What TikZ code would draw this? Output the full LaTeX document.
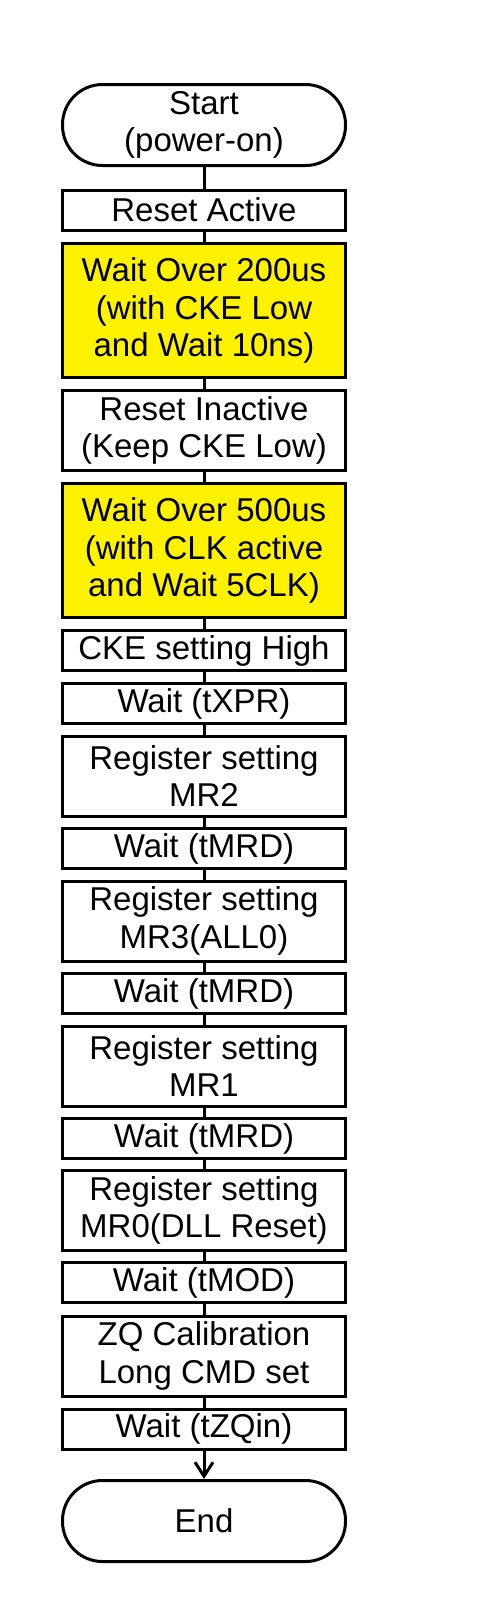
\documentclass[tikz,border=0pt]{standalone}
\usepackage{fontspec}
\setmainfont{Liberation Sans}
\usetikzlibrary{arrows.meta}

\begin{document}
\begin{tikzpicture}[
    x=1pt, y=-1pt,
    every node/.style={draw, line width=3pt, minimum width=283pt, inner sep=0pt,
      align=center, font=\fontsize{33}{37.5}\selectfont},
    term/.style={rounded corners=40pt, minimum height=81pt},
    single/.style={minimum height=40pt},
    double/.style={minimum height=80pt},
    waitbox/.style={minimum height=134pt, fill=yellow},
    line width=3pt
  ]
    \useasboundingbox (0,0) rectangle (492,1623);
    \node[term] (start) at (204, 125) {Start\\(power-on)};
    \node[single] (rstact) at (204, 210) {Reset Active};
    \node[waitbox] (wait1) at (204, 310.5) {Wait Over 200us\\(with CKE Low\\and Wait 10ns)};
    \node[double] (rstinact) at (204, 430.5) {Reset Inactive\\(Keep CKE Low)};
    \node[waitbox] (wait2) at (204, 550.5) {Wait Over 500us\\(with CLK active\\and Wait 5CLK)};
    \node[single] (ckehigh) at (204, 650.5) {CKE setting High};
    \node[single] (txpr) at (204, 703.5) {Wait (tXPR)};
    \node[double] (mrtwo) at (204, 776) {Register setting\\MR2};
    \node[single] (tmrda) at (204, 848.5) {Wait (tMRD)};
    \node[double] (mrthree) at (204, 921) {Register setting\\MR3(ALL0)};
    \node[single] (tmrdb) at (204, 993.5) {Wait (tMRD)};
    \node[double] (mrone) at (204, 1066) {Register setting\\MR1};
    \node[single] (tmrdc) at (204, 1138.5) {Wait (tMRD)};
    \node[double] (mrzero) at (204, 1210.5) {Register setting\\MR0(DLL Reset)};
    \node[single] (tmod) at (204, 1282.5) {Wait (tMOD)};
    \node[double] (zqcal) at (204, 1356) {ZQ Calibration\\Long CMD set};
    \node[single] (tzqin) at (204, 1429) {Wait (tZQin)};
    \node[term] (end) at (204, 1521) {End};
    \draw (start) -- (rstact);
    \draw (rstact) -- (wait1);
    \draw (wait1) -- (rstinact);
    \draw (rstinact) -- (wait2);
    \draw (wait2) -- (ckehigh);
    \draw (ckehigh) -- (txpr);
    \draw (txpr) -- (mrtwo);
    \draw (mrtwo) -- (tmrda);
    \draw (tmrda) -- (mrthree);
    \draw (mrthree) -- (tmrdb);
    \draw (tmrdb) -- (mrone);
    \draw (mrone) -- (tmrdc);
    \draw (tmrdc) -- (mrzero);
    \draw (mrzero) -- (tmod);
    \draw (tmod) -- (zqcal);
    \draw (zqcal) -- (tzqin);
    \draw[-{Straight Barb[length=14pt, width=18pt]}] (tzqin) -- (end);
  \end{tikzpicture}
\end{document}
